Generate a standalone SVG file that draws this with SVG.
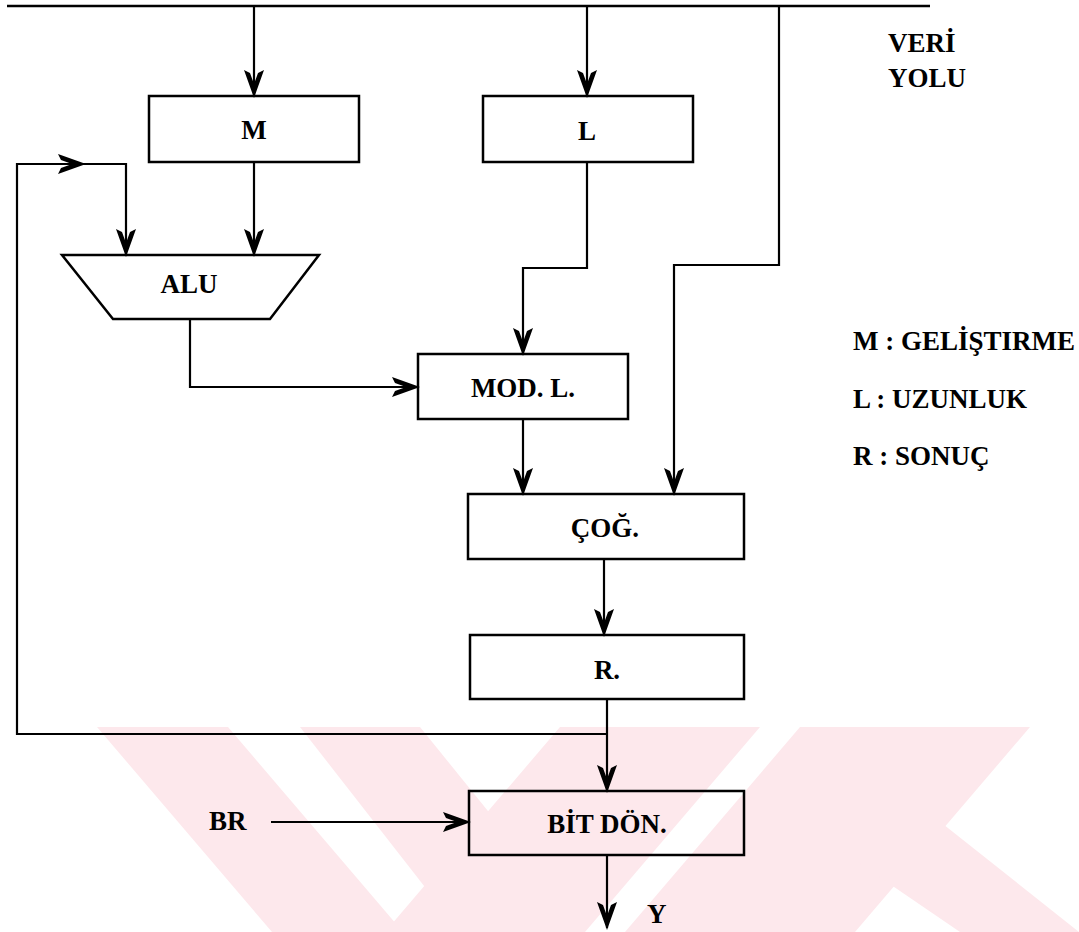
<svg xmlns="http://www.w3.org/2000/svg" width="1079" height="932" viewBox="0 0 1079 932">
<style>
.ln{fill:none;stroke:#000;stroke-width:2.2}
.bx{fill:none;stroke:#000;stroke-width:2.5}
.t{font-family:"Liberation Serif","Times New Roman",serif;font-weight:bold;font-size:27px;fill:#000}
.c{text-anchor:middle}
.wm{fill:#fde8ec}
</style>
<defs>
<marker id="ah" markerUnits="userSpaceOnUse" orient="auto" markerWidth="30" markerHeight="24" viewBox="-28 -12 30 24" refX="0" refY="0" overflow="visible">
<path d="M2,0 L-26,-10 L-23,-4 L-12,0 L-23,4 L-26,10 Z" fill="#000"/>
</marker>
</defs>
<rect width="1079" height="932" fill="#fff"/>
<g id="watermark">
<polygon class="wm" points="97,727 228,727 403,932 272,932"/>
<polygon class="wm" points="300,727 420,727 560,900 500,932 460,932"/>
<polygon class="wm" points="560,727 760,727 585,932 385,932"/>
<polygon class="wm" points="800,727 1030,727 855,932 625,932"/>
<polygon class="wm" points="840,850 900,790 1079,932 960,932"/>
</g>
<g id="connectors">
<line class="ln" x1="7" y1="6" x2="930" y2="6" style="stroke-width:2.6"/>
<line class="ln" x1="254" y1="6" x2="254" y2="96" marker-end="url(#ah)"/>
<line class="ln" x1="587" y1="6" x2="587" y2="96" marker-end="url(#ah)"/>
<polyline class="ln" points="779,6 779,265 674,265 674,494" marker-end="url(#ah)"/>
<polyline class="ln" points="587,162 587,268 523,268 523,354" marker-end="url(#ah)"/>
<line class="ln" x1="254" y1="162" x2="254" y2="255" marker-end="url(#ah)"/>
<polyline class="ln" points="607,734 17,734 17,164 84,164" marker-end="url(#ah)"/>
<polyline class="ln" points="84,164 126,164 126,255" marker-end="url(#ah)"/>
<polyline class="ln" points="190,319 190,387 418,387" marker-end="url(#ah)"/>
<line class="ln" x1="523" y1="419" x2="523" y2="494" marker-end="url(#ah)"/>
<line class="ln" x1="604" y1="559" x2="604" y2="635" marker-end="url(#ah)"/>
<line class="ln" x1="607" y1="699" x2="607" y2="791" marker-end="url(#ah)"/>
<line class="ln" x1="271" y1="822" x2="469" y2="822" marker-end="url(#ah)"/>
<line class="ln" x1="607" y1="855" x2="607" y2="928" marker-end="url(#ah)"/>
</g>
<g id="node-M"><rect class="bx" x="149" y="96" width="210" height="66"/><text class="t c" x="254" y="139">M</text></g>
<g id="node-L"><rect class="bx" x="483" y="96" width="210" height="66"/><text class="t c" x="587" y="140">L</text></g>
<g id="node-ALU"><polygon class="bx" points="62,255 319,255 270,319 113,319"/><text class="t c" x="189" y="293">ALU</text></g>
<g id="node-MODL"><rect class="bx" x="418" y="354" width="210" height="65"/><text class="t c" x="523" y="397">MOD. L.</text></g>
<g id="node-COG"><rect class="bx" x="468" y="494" width="276" height="65"/><text class="t c" x="605" y="537">ÇOĞ.</text></g>
<g id="node-R"><rect class="bx" x="470" y="635" width="274" height="64"/><text class="t c" x="607" y="679">R.</text></g>
<g id="node-BITDON"><rect class="bx" x="469" y="791" width="275" height="64"/><text class="t c" x="607" y="833">BİT DÖN.</text></g>
<g id="labels">
<text class="t" x="209" y="830">BR</text>
<text class="t" x="647" y="923">Y</text>
<text class="t" x="888" y="52">VERİ</text>
<text class="t" x="888" y="87">YOLU</text>
<text class="t" x="853" y="350">M : GELİŞTIRME</text>
<text class="t" x="853" y="408">L : UZUNLUK</text>
<text class="t" x="853" y="465">R : SONUÇ</text>
</g>
</svg>
